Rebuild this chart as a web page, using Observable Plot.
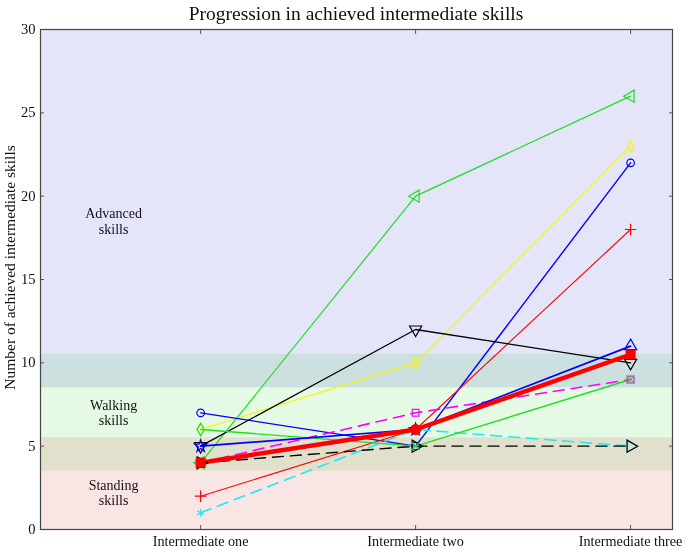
<!DOCTYPE html>
<html><head><meta charset="utf-8">
<script src="https://cdn.jsdelivr.net/npm/d3@7"></script>
<script src="https://cdn.jsdelivr.net/npm/@observablehq/plot@0.6"></script>
<style>
body{margin:0;background:#fff;font-family:"Liberation Serif","Times New Roman",serif;}
#title{height:20px;line-height:28px;font-size:19.5px;padding-left:40px;width:632px;text-align:center;color:#111;overflow:visible;white-space:nowrap;}
#chart svg{display:block;overflow:visible;}
</style>
</head><body>
<div id="title">Progression in achieved intermediate skills</div>
<div id="chart"></div>
<script>
// Categories
const stages = ["Intermediate one", "Intermediate two", "Intermediate three"];
const yTicks = [0, 5, 10, 15, 20, 25, 30];

// Series values (number of achieved intermediate skills)
const greenA   = [4, 20, 26];
const yellow   = [6, 10, 23];
const blueO    = [7, 5, 22];
const redPlus  = [2, 6, 18];
const blackV   = [5, 12, 10];
const magenta  = [4, 7, 9];
const cyan     = [1, 6, 5];
const blackDsh = [4, 5, 5];
const greenB   = [6, 5, 9];
const blueHex  = [5, 6, 11];
const redMean  = [4, 6, 10.5];

// Skill bands
const bandNames = ["Advanced skills", "Walking skills", "Standing skills"];
const bandLow   = [8.5, 3.5, 0];
const bandHigh  = [30, 10.5, 5.5];
const bandLabels = ["Advanced\nskills", "Walking\nskills", "Standing\nskills"];
const bandLabelY = [18.5, 7, 2.2];

// Styles
const series = [
  {v: greenA,   color: "#22dd22", w: 1.2, dash: null, m: ["tl","tl","tl"]},
  {v: yellow,   color: "#f5f500", w: 1.2, dash: null, m: ["dia","dia","dia"]},
  {v: blueO,    color: "#0000ff", w: 1.4, dash: null, m: ["cir","cir","cir"]},
  {v: redPlus,  color: "#ff0000", w: 1.1, dash: null, m: ["plus","plus","plus"]},
  {v: blackV,   color: "#000000", w: 1.3, dash: null, m: ["td","td","td"]},
  {v: magenta,  color: "#ff00ff", w: 1.6, dash: "11,7", m: ["sq","sq","sq"]},
  {v: cyan,     color: "#22e8f0", w: 1.6, dash: "11,7", m: ["ast","ast","tr"]},
  {v: blackDsh, color: "#000000", w: 1.4, dash: "11,7", m: ["tr","tr","tr"]},
  {v: greenB,   color: "#22dd22", w: 1.4, dash: null, m: ["dia","x","x"]},
  {v: blueHex,  color: "#0000ff", w: 1.7, dash: null, m: ["star","star","tu"]},
  {v: redMean,  color: "#ff0000", w: 4.5, dash: null, m: ["sqf","cf","sqf"]}
];
const markerDefs = {
  tl:  {symbol: "triangle", rotate: -90},
  tr:  {symbol: "triangle", rotate: 90},
  td:  {symbol: "triangle", rotate: 180},
  tu:  {symbol: "triangle", rotate: 0},
  dia: {symbol: "diamond", rotate: 0},
  cir: {symbol: "circle", rotate: 0},
  plus:{symbol: "plus", rotate: 0},
  sq:  {symbol: "square", rotate: 0},
  ast: {symbol: "asterisk", rotate: 0},
  x:   {symbol: "times", rotate: 0},
  star:{symbol: "star", rotate: 0},
  sqf: {symbol: "square", rotate: 0, filled: true},
  cf:  {symbol: "circle", rotate: 0, filled: true}
};

const bands = bandNames.map((n, i) => ({name: n, y1: bandLow[i], y2: bandHigh[i]}));
const bandFill = ["#e5e5fa", "#e5fae5", "#fae5e5"];
const labels = bandLabels.map((t, i) => ({t, y: bandLabelY[i]}));

const marks = [
  Plot.rect(bands, {y1: "y1", y2: "y2", fill: (d, i) => bandFill[i], mixBlendMode: "multiply"}),
  Plot.text(labels, {x: 0.595, y: "y", text: "t", fontSize: 14, lineHeight: 1.1, fill: "#111"})
];
series.forEach(s => {
  const pts = s.v.map((y, i) => ({x: i + 1, y}));
  marks.push(Plot.line(pts, {x: "x", y: "y", stroke: s.color, strokeWidth: s.w, strokeDasharray: s.dash || undefined}));
});
series.forEach(s => {
  s.v.forEach((y, i) => {
    const md = markerDefs[s.m[i]];
    const big = s.w > 3;
    marks.push(Plot.dot([{x: i + 1, y}], {
      x: "x", y: "y", symbol: md.symbol, rotate: md.rotate,
      r: big ? 4 : (md.symbol === "triangle" ? 4.5 : 3.8),
      stroke: s.color, strokeWidth: big ? 3 : 1.2,
      fill: md.filled ? s.color : "none"
    }));
  });
});
marks.push(
  Plot.axisY({anchor: "left", ticks: yTicks, tickSize: 0, tickPadding: 5, label: null, fontSize: 14.5}),
  Plot.axisY({anchor: "left", ticks: yTicks, tickSize: -4, text: null, label: null, stroke: "#555"}),
  Plot.axisY({anchor: "right", ticks: yTicks, tickSize: -4, text: null, label: null, stroke: "#555"}),
  Plot.axisX({anchor: "bottom", ticks: [1, 2, 3], tickFormat: d => stages[d - 1], tickSize: 0, tickPadding: 6, label: null, fontSize: 14.2}),
  Plot.axisX({anchor: "bottom", ticks: [1, 2, 3], tickSize: -4, text: null, label: null, stroke: "#555"}),
  Plot.axisX({anchor: "top", ticks: [1, 2, 3], tickSize: -4, text: null, label: null, stroke: "#555"}),
  Plot.frame({stroke: "#444", strokeWidth: 1.2}),
  Plot.text(["Number of achieved intermediate skills"], {frameAnchor: "left", textAnchor: "middle", rotate: -90, dx: -30, dy: -12, fontSize: 15.5, fill: "#111"})
);

const chart = Plot.plot({
  width: 686,
  height: 529,
  marginLeft: 40,
  marginRight: 14,
  marginTop: 9,
  marginBottom: 20,
  style: {fontFamily: "'Liberation Serif', 'Times New Roman', serif", fontSize: "14px", color: "#111", background: "transparent", overflow: "visible"},
  x: {domain: [0.255, 3.195], axis: null},
  y: {domain: [0, 30], axis: null},
  marks
});
document.getElementById("chart").appendChild(chart);
</script>
</body></html>
